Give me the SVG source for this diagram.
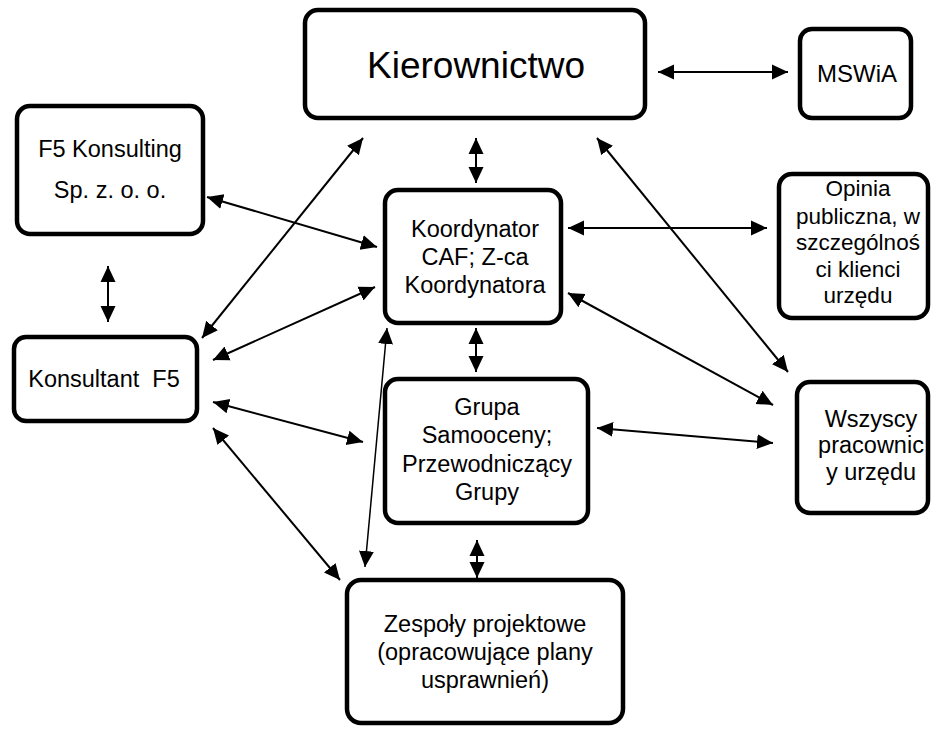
<svg xmlns="http://www.w3.org/2000/svg" width="931" height="729" viewBox="0 0 931 729">
<style>
.box{fill:#fff;stroke:#000;stroke-width:4.5}
.t{font-family:"Liberation Sans",Arial,sans-serif;font-size:23.5px;fill:#000;text-anchor:middle}
.c{stroke:#000;stroke-width:2;fill:none;marker-start:url(#ah);marker-end:url(#ah)}
.thin{stroke-width:1.5}
</style>
<defs>
<marker id="ah" markerUnits="userSpaceOnUse" markerWidth="18" markerHeight="18" viewBox="0 0 18 18" refX="16" refY="9" orient="auto-start-reverse">
<path d="M0,1.5 L16,9 L0,16.5 Z" fill="#000"/>
</marker>
</defs>
<rect width="931" height="729" fill="#fff"/>
<g id="connectors">
<line class="c" x1="658" y1="72" x2="788" y2="72"/>
<line class="c" x1="476" y1="138" x2="476" y2="183"/>
<line class="c" x1="363" y1="138" x2="202" y2="338"/>
<line class="c" x1="207" y1="197" x2="377" y2="247"/>
<line class="c" x1="108" y1="266" x2="108" y2="322"/>
<line class="c" x1="375" y1="287" x2="213" y2="360"/>
<line class="c" x1="568" y1="228" x2="767" y2="228"/>
<line class="c" x1="597" y1="138" x2="788" y2="372"/>
<line class="c" x1="568" y1="293" x2="773" y2="405"/>
<line class="c" x1="476" y1="328" x2="476" y2="372"/>
<line class="c" x1="597" y1="428" x2="773" y2="443"/>
<line class="c" x1="213" y1="402" x2="363" y2="442"/>
<line class="c" x1="213" y1="428" x2="340" y2="580"/>
<line class="c thin" x1="387" y1="328" x2="365" y2="567"/>
<line class="c" x1="477" y1="540" x2="477" y2="578"/>
</g>
<g id="kierownictwo">
<rect class="box" x="305" y="10" width="340" height="108" rx="13"/>
<text class="t" x="476" y="78" style="font-size:37px">Kierownictwo</text>
</g>
<g id="mswia">
<rect class="box" x="800" y="29" width="111" height="89" rx="12"/>
<text class="t" x="857" y="82" style="font-size:24px">MSWiA</text>
</g>
<g id="f5konsulting">
<rect class="box" x="17" y="106" width="186" height="128" rx="13"/>
<text class="t" x="110" y="157">F5 Konsulting</text>
<text class="t" x="110" y="198">Sp. z. o. o.</text>
</g>
<g id="koordynator">
<rect class="box" x="385" y="190" width="176" height="133" rx="13"/>
<text class="t" x="475" y="237">Koordynator</text>
<text class="t" x="475" y="265">CAF; Z-ca</text>
<text class="t" x="475" y="293">Koordynatora</text>
</g>
<g id="opinia">
<rect class="box" x="779" y="174" width="149" height="144" rx="13"/>
<text class="t" x="858" y="196" style="font-size:22.5px">Opinia</text>
<text class="t" x="858" y="224" style="font-size:22.5px">publiczna, w</text>
<text class="t" x="858" y="250" style="font-size:22.5px">szczególnoś</text>
<text class="t" x="858" y="277" style="font-size:22.5px">ci klienci</text>
<text class="t" x="858" y="303" style="font-size:22.5px">urzędu</text>
</g>
<g id="konsultant">
<rect class="box" x="14" y="337" width="183" height="84" rx="12"/>
<text class="t" x="104" y="387" xml:space="preserve">Konsultant  F5</text>
</g>
<g id="grupa">
<rect class="box" x="385" y="379" width="203" height="144" rx="13"/>
<text class="t" x="487" y="415">Grupa</text>
<text class="t" x="487" y="443">Samooceny;</text>
<text class="t" x="487" y="472">Przewodniczący</text>
<text class="t" x="487" y="500">Grupy</text>
</g>
<g id="wszyscy">
<rect class="box" x="797" y="382" width="131" height="131" rx="13"/>
<text class="t" x="871" y="427">Wszyscy</text>
<text class="t" x="871" y="453">pracownic</text>
<text class="t" x="871" y="480">y urzędu</text>
</g>
<g id="zespoly">
<rect class="box" x="347" y="580" width="276" height="143" rx="14"/>
<text class="t" x="485" y="632">Zespoły projektowe</text>
<text class="t" x="485" y="660">(opracowujące plany</text>
<text class="t" x="485" y="688">usprawnień)</text>
</g>
</svg>
